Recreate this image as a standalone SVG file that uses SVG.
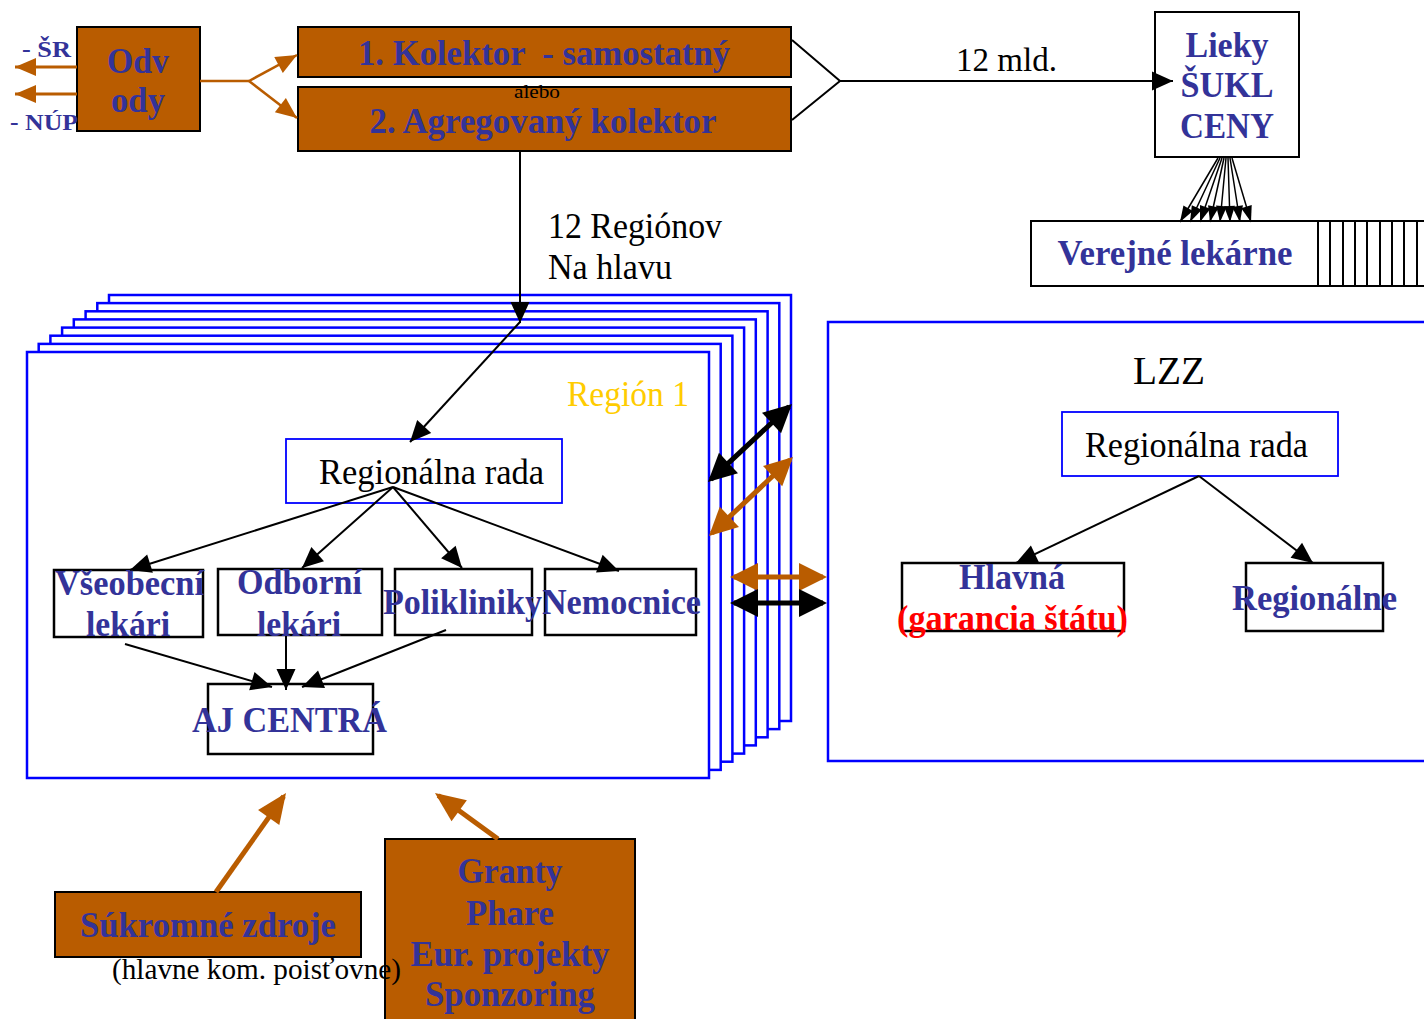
<svg xmlns="http://www.w3.org/2000/svg" width="1424" height="1019" viewBox="0 0 1424 1019">
<style>
.brown{fill:#B95C00;stroke:#000;stroke-width:2}
.wbox{fill:#fff;stroke:#000;stroke-width:2.5}
.bframe{fill:#fff;stroke:#0000FF;stroke-width:2.5}
.bbox{fill:#fff;stroke:#0000FF;stroke-width:1.8}
.bt{font-family:"Liberation Serif",serif;font-weight:bold;fill:#333399;font-size:36px}
.rt{font-family:"Liberation Serif",serif;fill:#000;font-size:35px}
.c{text-anchor:middle}
.ln{stroke:#000;stroke-width:2;fill:none}
.lo{stroke:#B95C00;stroke-width:3;fill:none}
</style>
<defs>
<marker id="ab" markerUnits="userSpaceOnUse" markerWidth="21" markerHeight="19" refX="21" refY="9.5" orient="auto" overflow="visible"><path d="M0,0 L21,9.5 L0,19 z" fill="#000"/></marker>
<marker id="as" markerUnits="userSpaceOnUse" markerWidth="16" markerHeight="11" refX="16" refY="5.5" orient="auto" overflow="visible"><path d="M0,0 L16,5.5 L0,11 z" fill="#000"/></marker>
<marker id="ao" markerUnits="userSpaceOnUse" markerWidth="21" markerHeight="18" refX="21" refY="9" orient="auto" overflow="visible"><path d="M0,0 L21,9 L0,18 z" fill="#B95C00"/></marker>
<marker id="aBk" markerUnits="userSpaceOnUse" markerWidth="28" markerHeight="28" refX="24" refY="14" orient="auto-start-reverse" overflow="visible"><path d="M0,0 L28,14 L0,28 z" fill="#000"/></marker>
<marker id="aBo" markerUnits="userSpaceOnUse" markerWidth="28" markerHeight="28" refX="24" refY="14" orient="auto-start-reverse" overflow="visible"><path d="M0,0 L28,14 L0,28 z" fill="#B95C00"/></marker>
<marker id="aOo" markerUnits="userSpaceOnUse" markerWidth="30" markerHeight="26" refX="26" refY="13" orient="auto" overflow="visible"><path d="M0,0 L30,13 L0,26 z" fill="#B95C00"/></marker>
</defs>
<rect width="1424" height="1019" fill="#fff"/>

<g id="region-stack">
<rect class="bframe" x="109" y="295" width="682" height="426"/>
<rect class="bframe" x="97.3" y="303.1" width="682" height="426"/>
<rect class="bframe" x="85.6" y="311.3" width="682" height="426"/>
<rect class="bframe" x="73.8" y="319.4" width="682" height="426"/>
<rect class="bframe" x="62.1" y="327.6" width="682" height="426"/>
<rect class="bframe" x="50.4" y="335.7" width="682" height="426"/>
<rect class="bframe" x="38.7" y="343.9" width="682" height="426"/>
<rect class="bframe" x="27" y="352" width="682" height="426"/>
<text class="rt" x="567" y="406" style="fill:#FFCC00" textLength="122" lengthAdjust="spacingAndGlyphs">Región 1</text>
</g>

<g id="lzz">
<rect class="bframe" x="828" y="322" width="620" height="439"/>
<text class="rt c" x="1169" y="384" style="font-size:40px" textLength="72" lengthAdjust="spacingAndGlyphs">LZZ</text>
</g>

<g id="odvody">
<rect class="brown" x="77" y="27" width="123" height="104"/>
<text class="bt c" x="138" y="73" textLength="62" lengthAdjust="spacingAndGlyphs">Odv</text>
<text class="bt c" x="138" y="112" textLength="54" lengthAdjust="spacingAndGlyphs">ody</text>
</g>
<g id="label-sr"><text class="bt" x="22" y="57" style="font-size:23px" textLength="49" lengthAdjust="spacingAndGlyphs">- ŠR</text></g>
<g id="label-nup"><text class="bt" x="10" y="130" style="font-size:23px" textLength="68" lengthAdjust="spacingAndGlyphs">- NÚP</text></g>

<g id="kolektor1">
<rect class="brown" x="298" y="27" width="493" height="50"/>
<text class="bt c" x="544" y="65" xml:space="preserve" textLength="372" lengthAdjust="spacingAndGlyphs">1. Kolektor  - samostatný</text>
</g>
<g id="kolektor2">
<rect class="brown" x="298" y="87" width="493" height="64"/>
<text class="bt c" x="543" y="133" textLength="347" lengthAdjust="spacingAndGlyphs">2. Agregovaný kolektor</text>
</g>
<g id="alebo"><text class="rt c" x="537" y="98" style="font-size:19px" textLength="46" lengthAdjust="spacingAndGlyphs">alebo</text></g>

<g id="lieky">
<rect class="wbox" x="1155" y="12" width="144" height="145" style="stroke-width:2"/>
<text class="bt c" x="1227" y="57" textLength="83" lengthAdjust="spacingAndGlyphs">Lieky</text>
<text class="bt c" x="1227" y="97" textLength="93" lengthAdjust="spacingAndGlyphs">ŠUKL</text>
<text class="bt c" x="1227" y="138" textLength="94" lengthAdjust="spacingAndGlyphs">CENY</text>
</g>

<g id="lekarne">
<rect class="wbox" x="1031" y="221" width="430" height="65" style="stroke-width:2"/>
<g class="ln">
<line x1="1318" y1="221" x2="1318" y2="286"/><line x1="1330" y1="221" x2="1330" y2="286"/>
<line x1="1343" y1="221" x2="1343" y2="286"/><line x1="1355" y1="221" x2="1355" y2="286"/>
<line x1="1367" y1="221" x2="1367" y2="286"/><line x1="1380" y1="221" x2="1380" y2="286"/>
<line x1="1392" y1="221" x2="1392" y2="286"/><line x1="1404" y1="221" x2="1404" y2="286"/>
<line x1="1417" y1="221" x2="1417" y2="286"/>
</g>
<text class="bt c" x="1175" y="265" textLength="235" lengthAdjust="spacingAndGlyphs">Verejné lekárne</text>
</g>

<g id="label-regionov">
<text class="rt" x="548" y="238" textLength="174" lengthAdjust="spacingAndGlyphs">12 Regiónov</text>
<text class="rt" x="548" y="279" textLength="124" lengthAdjust="spacingAndGlyphs">Na hlavu</text>
</g>
<g id="label-mld"><text class="rt" x="956" y="71" style="font-size:34px" textLength="101" lengthAdjust="spacingAndGlyphs">12 mld.</text></g>

<g id="rada1">
<rect class="bbox" x="286" y="439" width="276" height="64"/>
<text class="rt" x="319" y="484" textLength="225" lengthAdjust="spacingAndGlyphs">Regionálna rada</text>
</g>
<g id="vseobecni">
<rect class="wbox" x="54" y="570" width="149" height="67"/>
<text class="bt c" x="129.5" y="595" textLength="149" lengthAdjust="spacingAndGlyphs">Všeobecní</text>
<text class="bt c" x="128" y="636" textLength="84" lengthAdjust="spacingAndGlyphs">lekári</text>
</g>
<g id="odborni">
<rect class="wbox" x="218" y="569" width="164" height="66"/>
<text class="bt c" x="299.5" y="594" textLength="125" lengthAdjust="spacingAndGlyphs">Odborní</text>
<text class="bt c" x="299" y="636" textLength="84" lengthAdjust="spacingAndGlyphs">lekári</text>
</g>
<g id="polikliniky">
<rect class="wbox" x="395" y="569" width="137" height="66"/>
<text class="bt" x="383" y="614" textLength="159" lengthAdjust="spacingAndGlyphs">Polikliniky</text>
</g>
<g id="nemocnice">
<rect class="wbox" x="545" y="569" width="151" height="66"/>
<text class="bt" x="542" y="614" textLength="159" lengthAdjust="spacingAndGlyphs">Nemocnice</text>
</g>
<g id="aj-centra">
<rect class="wbox" x="208" y="684" width="165" height="70"/>
<text class="bt" x="192" y="732" textLength="195" lengthAdjust="spacingAndGlyphs">AJ CENTRÁ</text>
</g>

<g id="rada2">
<rect class="bbox" x="1062" y="412" width="276" height="64"/>
<text class="rt" x="1085" y="457" textLength="223" lengthAdjust="spacingAndGlyphs">Regionálna rada</text>
</g>
<g id="hlavna">
<rect class="wbox" x="902" y="563" width="222" height="68"/>
<text class="bt c" x="1012" y="589" textLength="106" lengthAdjust="spacingAndGlyphs">Hlavná</text>
<text class="bt c" x="1012.5" y="630" style="fill:#FF0000" textLength="231" lengthAdjust="spacingAndGlyphs">(garancia štátu)</text>
</g>
<g id="regionalne">
<rect class="wbox" x="1246" y="563" width="137" height="68"/>
<text class="bt c" x="1314.5" y="610" textLength="165" lengthAdjust="spacingAndGlyphs">Regionálne</text>
</g>

<g id="sukromne">
<rect class="brown" x="55" y="892" width="306" height="65"/>
<text class="bt c" x="208" y="937" textLength="256" lengthAdjust="spacingAndGlyphs">Súkromné zdroje</text>
</g>
<g id="granty">
<rect class="brown" x="385" y="839" width="250" height="200"/>
<text class="bt c" x="510" y="883" textLength="105" lengthAdjust="spacingAndGlyphs">Granty</text>
<text class="bt c" x="510" y="925" textLength="88" lengthAdjust="spacingAndGlyphs">Phare</text>
<text class="bt c" x="510" y="966" textLength="199" lengthAdjust="spacingAndGlyphs">Eur. projekty</text>
<text class="bt c" x="510" y="1006" textLength="170" lengthAdjust="spacingAndGlyphs">Sponzoring</text>
</g>
<g id="label-poistovne"><text class="rt" x="112" y="979" style="font-size:29px" textLength="289" lengthAdjust="spacingAndGlyphs">(hlavne kom. poisťovne)</text></g>

<g id="connectors">
<line class="lo" x1="77" y1="67" x2="15" y2="67" marker-end="url(#ao)"/>
<line class="lo" x1="77" y1="94" x2="15" y2="94" marker-end="url(#ao)"/>
<line class="lo" x1="200" y1="81" x2="249" y2="81" style="stroke-width:2.5"/>
<line class="lo" x1="249" y1="81" x2="297" y2="55" style="stroke-width:2.5" marker-end="url(#ao)"/>
<line class="lo" x1="249" y1="81" x2="297" y2="118" style="stroke-width:2.5" marker-end="url(#ao)"/>

<polyline class="ln" points="792,40 840,81 792,120"/>
<line class="ln" x1="840" y1="81" x2="1173" y2="81" marker-end="url(#ab)"/>

<line class="ln" x1="1218" y1="158" x2="1180" y2="222" style="stroke-width:1.5" marker-end="url(#as)"/>
<line class="ln" x1="1220" y1="158" x2="1190" y2="222" style="stroke-width:1.5" marker-end="url(#as)"/>
<line class="ln" x1="1222" y1="158" x2="1200" y2="222" style="stroke-width:1.5" marker-end="url(#as)"/>
<line class="ln" x1="1224" y1="158" x2="1210" y2="222" style="stroke-width:1.5" marker-end="url(#as)"/>
<line class="ln" x1="1226" y1="158" x2="1220" y2="222" style="stroke-width:1.5" marker-end="url(#as)"/>
<line class="ln" x1="1228" y1="158" x2="1230" y2="222" style="stroke-width:1.5" marker-end="url(#as)"/>
<line class="ln" x1="1230" y1="158" x2="1240" y2="222" style="stroke-width:1.5" marker-end="url(#as)"/>
<line class="ln" x1="1232" y1="158" x2="1251" y2="222" style="stroke-width:1.5" marker-end="url(#as)"/>

<line class="ln" x1="520" y1="151" x2="520" y2="323" marker-end="url(#ab)"/>
<line class="ln" x1="520" y1="322" x2="410" y2="442" marker-end="url(#ab)"/>

<line class="ln" x1="393" y1="487" x2="130" y2="570" marker-end="url(#ab)"/>
<line class="ln" x1="393" y1="487" x2="302" y2="568" marker-end="url(#ab)"/>
<line class="ln" x1="393" y1="487" x2="462" y2="568" marker-end="url(#ab)"/>
<line class="ln" x1="393" y1="487" x2="619" y2="571" marker-end="url(#ab)"/>

<line class="ln" x1="125" y1="644" x2="272" y2="687" marker-end="url(#ab)"/>
<line class="ln" x1="286" y1="636" x2="286" y2="690" marker-end="url(#ab)"/>
<line class="ln" x1="446" y1="630" x2="302" y2="687" marker-end="url(#ab)"/>

<line class="ln" x1="1199" y1="476" x2="1016" y2="563" marker-end="url(#ab)"/>
<line class="ln" x1="1199" y1="476" x2="1313" y2="563" marker-end="url(#ab)"/>

<line x1="710.9" y1="479.3" x2="789.1" y2="406.7" stroke="#000" stroke-width="5" marker-start="url(#aBk)" marker-end="url(#aBk)"/>
<line x1="711.9" y1="533.3" x2="790.1" y2="459.7" stroke="#B95C00" stroke-width="5" marker-start="url(#aBo)" marker-end="url(#aBo)"/>
<line x1="734" y1="577" x2="823" y2="577" stroke="#B95C00" stroke-width="5" marker-start="url(#aBo)" marker-end="url(#aBo)"/>
<line x1="734" y1="603" x2="823" y2="603" stroke="#000" stroke-width="5" marker-start="url(#aBk)" marker-end="url(#aBk)"/>

<line x1="216" y1="892" x2="283.7" y2="796.3" stroke="#B95C00" stroke-width="5" marker-end="url(#aOo)"/>
<line x1="498" y1="839" x2="438.2" y2="795.4" stroke="#B95C00" stroke-width="5" marker-end="url(#aOo)"/>
</g>
</svg>
